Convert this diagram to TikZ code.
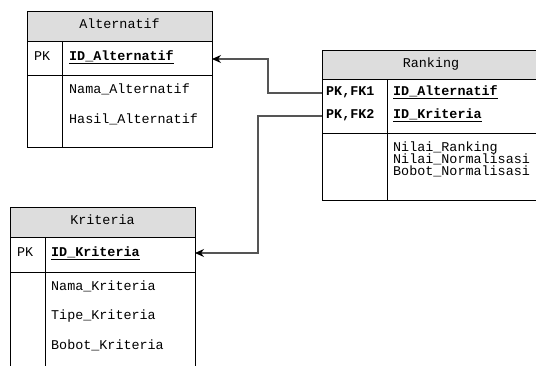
\documentclass[tikz,border=0pt]{standalone}
\usepackage{fontspec}
\setmonofont{Liberation Mono}
\usetikzlibrary{arrows.meta}

\definecolor{hdrgray}{RGB}{221,221,221}
\definecolor{lnkgray}{RGB}{85,85,85}

\tikzset{
  txt/.style={font=\ttfamily\fontsize{13.4}{15}\selectfont, inner sep=0pt,
    text height=1.5ex, text depth=.3ex},
  keytxt/.style={txt, font=\ttfamily\bfseries\fontsize{13.4}{15}\selectfont},
  tblbox/.style={draw=black, line width=0.8pt},
  tblhead/.style={tblbox, fill=hdrgray},
  fk/.style={draw=lnkgray, line width=1.1pt, -{Stealth[length=9pt,width=8pt,black]}}
}

\begin{document}
\begin{tikzpicture}[x=1pt,y=-1pt]
        \useasboundingbox (0,0) rectangle (536,365);
        \clip (0,0) rectangle (536,365);

        % Alternatif
        \draw[tblhead] (27,11) rectangle (212,41);
        \draw[tblbox] (27,41) rectangle (212,147);
        \draw[tblbox] (27,75) -- (212,75);
        \draw[tblbox] (62,41) -- (62,147);
        \node[txt] (altT) at (119.5,26) {Alternatif};
        \node[txt,anchor=west] (altPKl) at (34,58) {PK};
        \node[keytxt,anchor=west] (altID) at (69,58) {\underline{ID\_Alternatif}};
        \node[txt,anchor=west] (altNama) at (69,91) {Nama\_Alternatif};
        \node[txt,anchor=west] (altHasil) at (69,121) {Hasil\_Alternatif};
        \coordinate (altPK) at (212,59);

        % Ranking
        \draw[tblhead] (322,50) rectangle (540,79);
        \draw[tblbox] (322,79) rectangle (540,200);
        \draw[tblbox] (322,133) -- (540,133);
        \draw[tblbox] (387,79) -- (387,200);
        \node[txt] (rnkT) at (431,65) {Ranking};
        \node[keytxt,anchor=west] (rnkK1) at (326,93) {PK,FK1};
        \node[keytxt,anchor=west] (rnkK2) at (326,116) {PK,FK2};
        \node[keytxt,anchor=west] (rnkID1) at (393,93) {\underline{ID\_Alternatif}};
        \node[keytxt,anchor=west] (rnkID2) at (393,116) {\underline{ID\_Kriteria}};
        \node[txt,anchor=west] (rnkNR) at (393,149) {Nilai\_Ranking};
        \node[txt,anchor=west] (rnkNN) at (393,161) {Nilai\_Normalisasi};
        \node[txt,anchor=west] (rnkBN) at (393,173) {Bobot\_Normalisasi};
        \coordinate (rnkFK1) at (322,93);
        \coordinate (rnkFK2) at (322,116);

        % Kriteria
        \draw[tblhead] (10,207) rectangle (195,237);
        \draw[tblbox] (10,237) rectangle (195,375);
        \draw[tblbox] (10,272) -- (195,272);
        \draw[tblbox] (45,237) -- (45,375);
        \node[txt] (kriT) at (102.5,222) {Kriteria};
        \node[txt,anchor=west] (kriPKl) at (17,254) {PK};
        \node[keytxt,anchor=west] (kriID) at (51,254) {\underline{ID\_Kriteria}};
        \node[txt,anchor=west] (kriNama) at (51,288) {Nama\_Kriteria};
        \node[txt,anchor=west] (kriTipe) at (51,317) {Tipe\_Kriteria};
        \node[txt,anchor=west] (kriBobot) at (51,347) {Bobot\_Kriteria};
        \coordinate (kriPK) at (195,253);

        % relations
        \draw[fk] (rnkFK1) -- (268,93) |- (altPK);
        \draw[fk] (rnkFK2) -- (258,116) |- (kriPK);
    \end{tikzpicture}
\end{document}
